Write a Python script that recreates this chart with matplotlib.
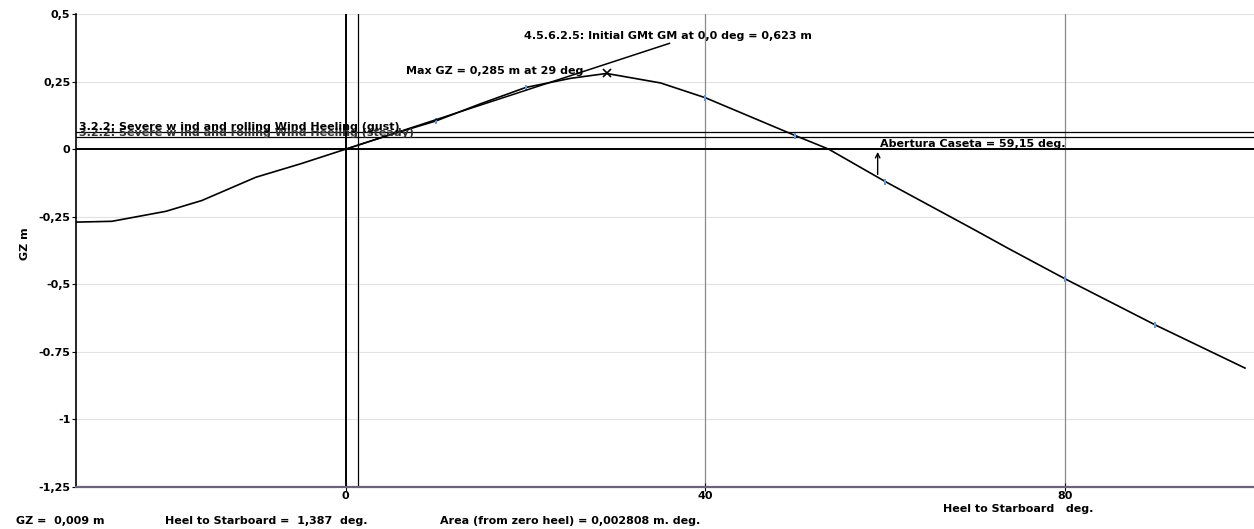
import matplotlib.pyplot as plt
import numpy as np

plt.rcParams['font.family'] = ['DejaVu Sans']
plt.rcParams['font.weight'] = 'bold'
plt.rcParams['axes.labelweight'] = 'bold'
plt.rcParams['font.size'] = 8

# GZ curve (heel in deg, GZ in m)
heel = [-30, -26, -20, -16, -10, -5, 0, 5, 10, 15, 20, 25, 29, 35, 40, 45,
        50, 53.7, 60, 65, 70, 73.6, 80, 90, 100]
gz = [-0.27, -0.267, -0.23, -0.19, -0.104, -0.054, 0, 0.054, 0.104, 0.168,
      0.228, 0.262, 0.28, 0.245, 0.19, 0.12, 0.05, 0.0, -0.12, -0.21, -0.30,
      -0.366, -0.48, -0.65, -0.81]
marked_heels = [10, 20, 40, 50, 60, 80, 90]

gm = 0.623            # initial GM, m
gm_end = 36           # where the GM line stops, deg
gust = 0.062          # wind heeling (gust), m
steady = 0.045        # wind heeling (steady), m
cursor_heel = 1.387
abertura = 59.15

yticks = [0.5, 0.25, 0, -0.25, -0.5, -0.75, -1, -1.25]
ylabels = ["0,5", "0,25", "0", "-0,25", "-0,5", "-0.75", "-1", "-1,25"]
xticks = [0, 40, 80]

heel = np.array(heel)
gz = np.array(gz)

fig = plt.figure(figsize=(12.54, 5.29), dpi=100)
ax = fig.add_axes([76/1254, 42/529, 1178/1254, 473/529])

ax.set_xlim(-30, 101)
ax.set_ylim(-1.25, 0.5)

# grid
for y in yticks:
    ax.axhline(y, color='#e2e2e2', lw=0.8, zorder=0)
for x in xticks[1:]:
    ax.axvline(x, color='#8a8a8a', lw=0.9, zorder=0)

# reference lines
ax.axhline(0, color='black', lw=1.4)
ax.axvline(0, color='black', lw=1.4)
ax.axvline(cursor_heel, color='black', lw=0.9)
ax.axhline(gust, color='black', lw=0.9)
ax.axhline(steady, color='black', lw=0.9)

# curve
ax.plot(heel, gz, color='black', lw=1.2)
sel = np.isin(heel, marked_heels)
ax.plot(heel[sel], gz[sel], ls='none', marker='|', ms=5, mew=1.5, color='#6a9ad8')

# initial GM line
th = np.array([0, gm_end])
ax.plot(th, gm*np.radians(th), color='black', lw=1.1)
ax.text(19.8, 0.42, "4.5.6.2.5: Initial GMt GM at 0,0 deg = 0,623 m", va='center')

# max GZ
imax = np.argmax(gz)
ax.plot(heel[imax], gz[imax], marker='x', ms=6, mew=1.2, color='black')
ax.text(6.7, 0.29, "Max GZ = 0,285 m at 29 deg", va='center')

# wind heeling labels (they overlap in the original too)
ax.text(-29.7, steady - 0.004, "3.2.2: Severe w ind and rolling Wind Heeling (steady)",
        va='bottom', color='#333333')
ax.text(-29.7, gust, "3.2.2: Severe w ind and rolling Wind Heeling (gust)",
        va='bottom')

# abertura caseta
ab_gz = np.interp(abertura, heel, gz)
ax.annotate("", xy=(abertura, 0), xytext=(abertura, ab_gz),
            arrowprops=dict(arrowstyle='->', lw=1, color='black'))
ax.text(abertura + 0.3, 0.002, "Abertura Caseta = 59,15 deg.", va='bottom')

# axes styling
ax.spines['top'].set_visible(False)
ax.spines['right'].set_visible(False)
ax.spines['left'].set_color('black')
ax.spines['left'].set_linewidth(1.2)
ax.spines['bottom'].set_color('#6b6478')
ax.spines['bottom'].set_linewidth(1.6)

ax.set_yticks(yticks)
ax.set_yticklabels(ylabels)
ax.set_xticks(xticks)
ax.set_xticklabels([str(v) for v in xticks])
ax.tick_params(axis='y', direction='out', length=3, pad=1)
ax.tick_params(axis='x', direction='inout', length=6, pad=0)

ax.set_ylabel("GZ m")
ax.yaxis.set_label_coords(-0.039, 0.514)
ax.set_xlabel("Heel to Starboard   deg.")
ax.xaxis.set_label_coords(0.80, -0.036)

# status line
fig.text(16/1254, 8/529, "GZ =  0,009 m", va='center')
fig.text(165/1254, 8/529, "Heel to Starboard =  1,387  deg.", va='center')
fig.text(440/1254, 8/529, "Area (from zero heel) = 0,002808 m. deg.", va='center')

fig.savefig('out.png', dpi=100)
